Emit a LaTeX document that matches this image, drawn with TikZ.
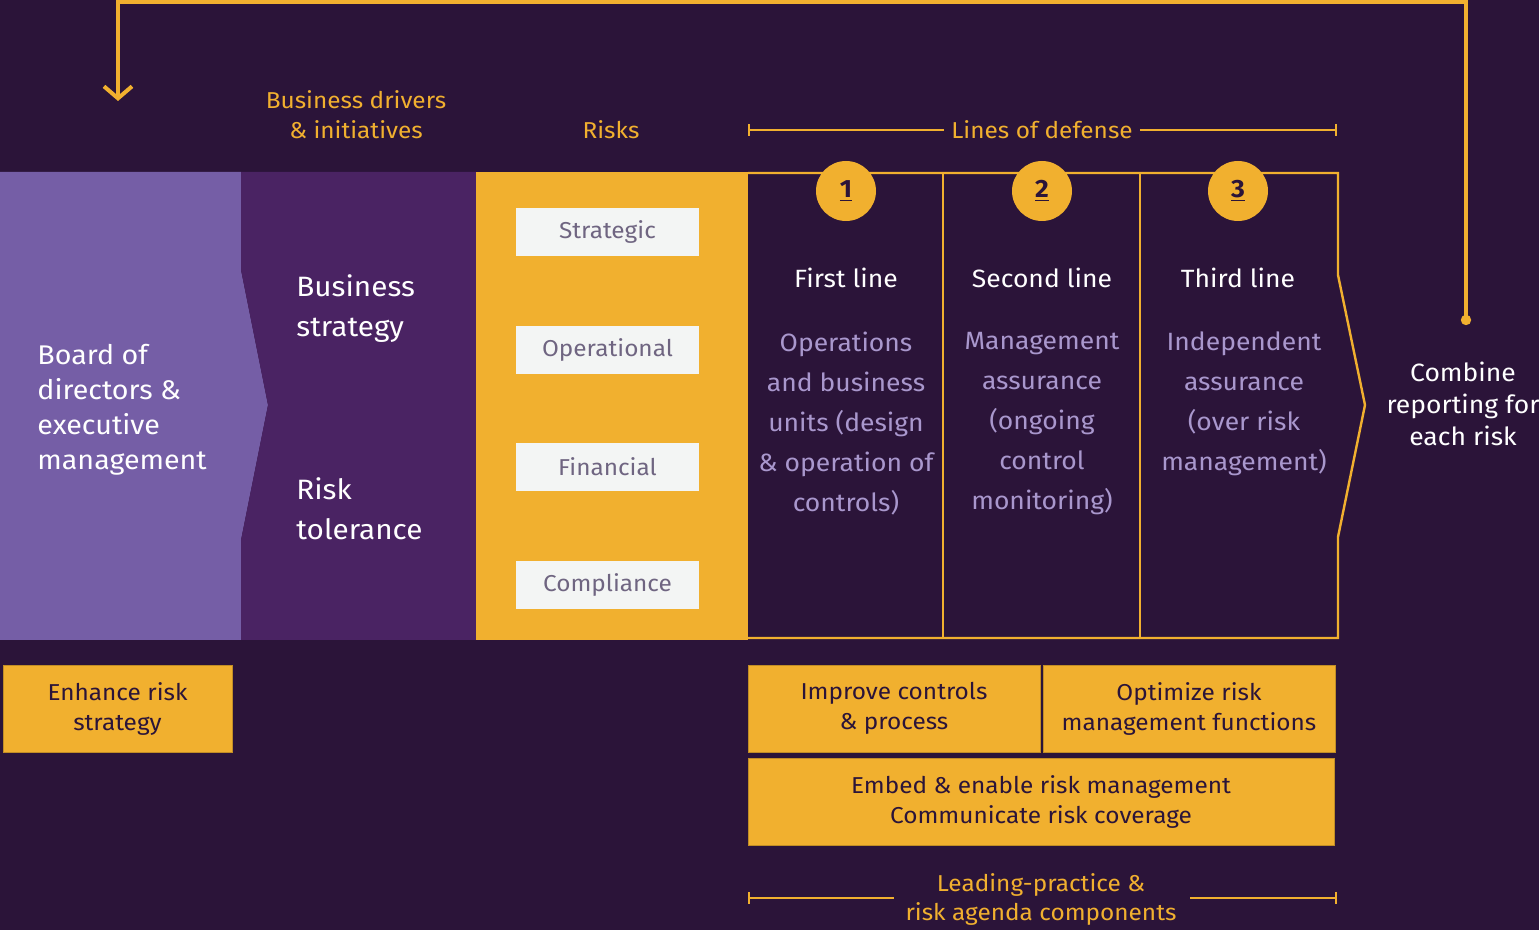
\documentclass[tikz,border=0pt]{standalone}
\usepackage{fontspec}
\setmainfont[FakeStretch=1.06]{Fira Sans}
\usetikzlibrary{arrows.meta}

\definecolor{bgdark}{HTML}{2B1439}
\definecolor{lilac}{HTML}{755EA6}
\definecolor{plum}{HTML}{4A2363}
\definecolor{gold}{HTML}{F1B02F}
\definecolor{paper}{HTML}{F3F5F4}
\definecolor{greyplum}{HTML}{6F6581}
\definecolor{softlilac}{HTML}{A997CD}

\begin{document}
\begin{tikzpicture}[x=0.5pt,y=-0.5pt,
    head/.style={text=gold,align=center,font=\fontsize{11.5}{15}\selectfont},
    bandtext/.style={text=white,anchor=west,align=left,inner sep=0pt},
    riskbox/.style={fill=paper,text=greyplum,minimum width=91.5pt,minimum height=24pt,inner sep=0pt,font=\fontsize{11.5}{14}\selectfont},
    lineno/.style={circle,fill=gold,text=bgdark,minimum size=30pt,inner sep=0pt,font=\fontsize{12.5}{14}\bfseries},
    linetitle/.style={text=white,font=\fontsize{12.5}{15}\selectfont},
    linedesc/.style={text=softlilac,align=center,font=\fontsize{12.5}{20}\selectfont},
    action/.style={fill=gold,draw=gold!80!black,line width=0.4pt,text=bgdark,align=center,inner sep=0pt,minimum height=43.5pt,font=\fontsize{11.5}{15}\selectfont},
    span/.style={gold,line width=1.1pt,{Bar[width=6pt]}-},
    >={Straight Barb[length=6pt,width=14pt]}]
\useasboundingbox (0,0) rectangle (1539,930);
\fill[bgdark] (0,0) rectangle (1539,930);

% bands: board, business, risks
\fill[lilac] (0,172) -- (241,172) -- (241,270) -- (268,405) -- (241,540) -- (241,640) -- (0,640) -- cycle;
\fill[plum] (241,172) -- (476,172) -- (476,273) -- (503,406) -- (476,537) -- (476,640) -- (241,640) -- (241,540) -- (268,405) -- (241,270) -- cycle;
\fill[gold] (476,172) rectangle (748,640);

% three lines of defense
\draw[gold,line width=1.2pt] (748,173) -- (1338,173) -- (1338,275) -- (1365,405) -- (1338,537) -- (1338,638) -- (748,638);
\draw[gold,line width=1.2pt] (943,173) -- (943,638) (1140,173) -- (1140,638);

% headings
\node[head] (drivers) at (356,115) {Business drivers\\\& initiatives};
\node[head] (risks) at (611,130) {Risks};
\node[head] (lod) at (1042,130) {Lines of defense};
\coordinate (lodL) at (748,130);
\coordinate (lodR) at (1337,130);
\draw[span] (lodL) -- (lod.west);
\draw[span] (lodR) -- (lod.east);

\node[bandtext,font=\fontsize{13.5}{17.5}\selectfont] (board) at (37,410) {Board of\\directors \&\\executive\\management};
\node[bandtext,font=\fontsize{14}{20}\selectfont] (strategy) at (296,309) {Business\\strategy};
\node[bandtext,font=\fontsize{14}{20}\selectfont] (tolerance) at (296,509) {Risk\\tolerance};

\node[riskbox] (strategic) at (607.5,232) {Strategic};
\node[riskbox] (operational) at (607.5,350) {Operational};
\node[riskbox] (financial) at (607.5,467) {Financial};
\node[riskbox] (compliance) at (607.5,585) {Compliance};

\node[lineno] (n1) at (846,191) {\underline{1}};
\node[lineno] (n2) at (1042,191) {\underline{2}};
\node[lineno] (n3) at (1238,191) {\underline{3}};
\node[linetitle] (first) at (846,278) {First line};
\node[linetitle] (second) at (1042,278) {Second line};
\node[linetitle] (third) at (1238,278) {Third line};
\node[linedesc] (firstdesc) at (846,424) {Operations\\and business\\units (design\\\& operation of\\controls)};
\node[linedesc] (seconddesc) at (1042,424) {Management\\assurance\\(ongoing\\control\\monitoring)};
\node[linedesc] (thirddesc) at (1244,404) {Independent\\assurance\\(over risk\\management)};

\node[text=white,align=center,font=\fontsize{12.5}{16}\selectfont] (combine) at (1463,404) {Combine\\reporting for\\each risk};

% reporting loop back to the board
\fill[gold] (1466,320) circle (2.6pt);
\coordinate (dot) at (1466,320);
\coordinate (top) at (1466,2);
\coordinate (boardin) at (118,101);
\draw[->,gold,line width=2pt] (dot) -- (top) -| (boardin);

% actions
\node[action,minimum width=114.5pt] (enhance) at (117.5,708.5) {Enhance risk\\strategy};
\node[action,minimum width=146pt] (improve) at (894,708.5) {Improve controls\\\& process};
\node[action,minimum width=146pt] (optimize) at (1189,708.5) {Optimize risk\\management functions};
\node[action,minimum width=293pt] (embed) at (1041,802) {Embed \& enable risk management\\Communicate risk coverage};

\node[head,font=\fontsize{11.5}{14.5}\selectfont] (leading) at (1041,899) {Leading-practice \&\\risk agenda components};
\coordinate (leadL) at (748,898);
\coordinate (leadR) at (1337,898);
\draw[span] (leadL) -- ([xshift=-2.5pt]leading.west |- leadL);
\draw[span] (leadR) -- ([xshift=3pt]leading.east |- leadR);
\end{tikzpicture}
\end{document}
